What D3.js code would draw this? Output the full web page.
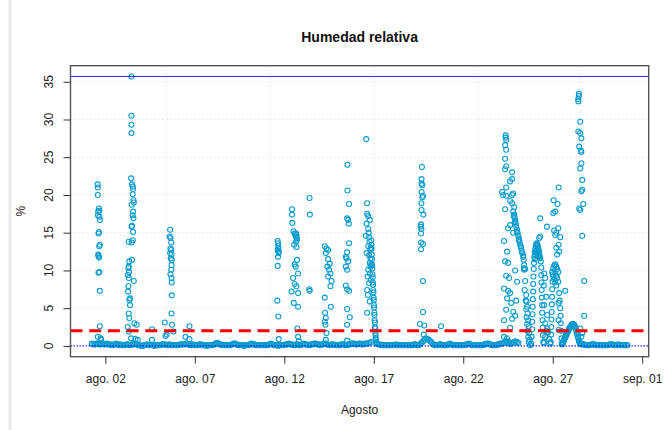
<!DOCTYPE html>
<html>
<head>
<meta charset="utf-8">
<script src="https://cdn.jsdelivr.net/npm/d3@7"></script>
<style>
  body { margin: 0; background: #fff; }
  svg { display: block; font-family: "Liberation Sans", Arial, sans-serif; }
</style>
</head>
<body>
<div id="chart"></div>
<script>
// readings of August 2019, times as decimal day of the month
const year = 2019
const monthAbbr = ["ene.", "feb.", "mar.", "abr.", "may.", "jun.", "jul.", "ago.", "sep.", "oct.", "nov.", "dic."]
const xTickDays = [2, 7, 12, 17, 22, 27, 32]
const yTicks = [0, 5, 10, 15, 20, 25, 30, 35]
const refLine = 2

// low background level, one value every 2 hours (00h, 02h ... 22h) for each day
const baseline = [
  [null, null, null, 0.3, 0.2, 0.2, 0.3, 0.3, 0.2, 0.2, 0.3, 0.2],
  [0.2, 0.3, 0.2, 0.2, 0.1, 0.1, 0.2, 0.3, 0.2, 0.1, 0.2, 0.1],
  [0.1, 0.1, 0.2, 0.2, 0.1, 0.1, 0.2, 0.2, 0.3, 0.2, 0.1, 0.1],
  [0.0, 0.0, 0.1, 0.1, 0.2, 0.1, 0.1, 0.1, 0.1, 0.0, 0.1, 0.1],
  [0.1, 0.1, 0.2, 0.2, 0.2, 0.1, 0.1, 0.2, 0.1, 0.1, 0.1, 0.1],
  [0.1, 0.1, 0.2, 0.2, 0.2, 0.2, 0.3, 0.2, 0.2, 0.1, 0.1, 0.2],
  [0.1, 0.1, 0.1, 0.2, 0.2, 0.1, 0.1, 0.1, 0.0, 0.1, 0.1, 0.1],
  [0.1, 0.2, 0.3, 0.4, 0.3, 0.2, 0.1, 0.1, 0.1, 0.1, 0.1, 0.1],
  [0.1, 0.2, 0.3, 0.3, 0.2, 0.1, 0.1, 0.1, 0.1, 0.0, 0.1, 0.1],
  [0.1, 0.2, 0.3, 0.2, 0.2, 0.1, 0.1, 0.1, 0.1, 0.1, 0.1, 0.1],
  [0.1, 0.1, 0.2, 0.3, 0.2, 0.1, 0.1, 0.1, 0.0, 0.1, 0.1, 0.1],
  [0.1, 0.2, 0.2, 0.3, 0.2, 0.2, 0.1, 0.1, 0.2, 0.2, 0.1, 0.1],
  [0.2, 0.3, 0.2, 0.2, 0.1, 0.1, 0.2, 0.2, 0.3, 0.3, 0.2, 0.2],
  [0.1, 0.2, 0.2, 0.3, 0.3, 0.2, 0.1, 0.1, 0.2, 0.2, 0.1, 0.1],
  [0.1, 0.1, 0.2, 0.2, 0.2, 0.1, 0.1, 0.2, 0.2, 0.3, 0.3, 0.3],
  [0.2, 0.2, 0.3, 0.3, 0.2, 0.2, 0.3, 0.3, 0.3, 0.4, 0.5, null],
  [null, null, 0.3, 0.2, 0.2, 0.1, 0.1, 0.1, 0.1, 0.1, 0.1, 0.1],
  [0.1, 0.1, 0.1, 0.2, 0.1, 0.1, 0.1, 0.1, 0.1, 0.1, 0.1, 0.1],
  [0.1, 0.1, 0.1, 0.2, 0.2, 0.1, 0.1, 0.2, 0.4, 0.6, 0.8, 1.0],
  [0.9, 0.8, 0.6, 0.4, 0.2, 0.1, 0.1, 0.1, 0.2, 0.2, 0.1, 0.1],
  [0.1, 0.1, 0.2, 0.3, 0.2, 0.1, 0.1, 0.1, 0.1, 0.1, 0.1, 0.1],
  [0.1, 0.1, 0.2, 0.2, 0.3, 0.2, 0.1, 0.1, 0.1, 0.1, 0.1, 0.1],
  [0.1, 0.1, 0.2, 0.2, 0.3, 0.3, 0.2, 0.1, 0.1, 0.1, 0.1, 0.2],
  [0.2, 0.3, 0.3, 0.4, 0.5, 0.6, 0.4, 0.3, 0.3, 0.4, 0.5, 0.6],
  [0.5, 0.4, null, null, null, null, null, null, null, null, null, null],
  [null, null, null, null, null, null, null, null, null, null, null, null],
  [null, null, null, null, null, null, null, null, null, null, null, null],
  [null, null, null, null, null, null, null, 0.3, 0.2, 0.2, 0.1, 0.1],
  [0.1, 0.1, 0.2, 0.2, 0.2, 0.1, 0.1, 0.1, 0.1, 0.1, 0.1, 0.1],
  [0.1, 0.1, 0.2, 0.2, 0.2, 0.1, 0.1, 0.1, 0.2, 0.1, 0.1, 0.1],
  [0.1, 0.1, 0.1]
]

// humid episodes: [day, value]
const ago02 = [[1.57, 21.4], [1.58, 21.0], [1.58, 20.0], [1.64, 18.2], [1.67, 17.9], [1.60, 17.8], [1.59, 17.3],
  [1.67, 17.1], [1.69, 16.7], [1.64, 15.1], [1.62, 14.9], [1.69, 13.4], [1.66, 13.2], [1.60, 12.1], [1.62, 11.9],
  [1.66, 11.7], [1.66, 9.8], [1.62, 9.7], [1.69, 7.3], [1.69, 2.6], [1.58, 1.2], [1.77, 0.8], [1.74, 1.0]]

const ago03 = [[3.46, 35.7], [3.46, 30.5], [3.46, 29.3], [3.46, 28.2], [3.44, 22.2], [3.49, 21.4], [3.53, 21.1],
  [3.55, 20.8], [3.53, 20.1], [3.57, 19.3], [3.59, 19.0], [3.47, 18.7], [3.55, 17.8], [3.53, 17.3], [3.57, 16.9],
  [3.49, 15.9], [3.47, 15.8], [3.55, 15.1], [3.53, 14.0], [3.31, 13.8], [3.47, 13.7], [3.49, 11.4], [3.34, 11.2],
  [3.31, 10.5], [3.29, 10.3], [3.32, 9.8], [3.27, 9.4], [3.31, 9.0], [3.59, 8.6], [3.29, 7.9], [3.27, 7.2],
  [3.38, 6.3], [3.34, 6.1], [3.38, 5.4], [3.31, 4.3], [3.34, 3.7], [3.62, 3.0], [3.75, 2.8], [3.31, 1.9],
  [3.44, 1.0], [3.81, 0.8], [3.68, 0.9], [3.25, 2.5]]

const ago06 = [[5.62, 15.4], [5.60, 14.5], [5.64, 14.3], [5.68, 13.7], [5.64, 12.9], [5.68, 12.7], [5.62, 12.3],
  [5.70, 12.1], [5.66, 11.6], [5.71, 11.4], [5.70, 10.7], [5.68, 10.1], [5.64, 9.5], [5.70, 9.0], [5.71, 8.4],
  [5.71, 6.7], [5.70, 4.3], [5.32, 3.1], [5.73, 2.8], [5.81, 1.9], [5.43, 1.5], [5.36, 1.3], [4.61, 2.2],
  [4.61, 0.8], [6.70, 2.6], [6.48, 1.2], [6.70, 0.9]]

const ago12 = [[11.63, 13.9], [11.65, 13.6], [11.67, 13.2], [11.63, 12.7], [11.69, 12.3], [11.65, 11.8],
  [11.63, 10.6], [11.61, 6.0], [11.67, 3.9], [11.69, 0.9], [11.67, 12.9], [11.69, 12.5],
  [12.43, 18.1], [12.43, 17.4], [12.45, 16.3], [12.51, 15.2], [12.58, 14.9], [12.68, 14.7], [12.64, 14.5],
  [12.71, 14.1], [12.55, 13.4], [12.68, 13.1], [12.71, 11.4], [12.58, 10.8], [12.64, 10.5], [12.77, 9.6],
  [12.49, 9.0], [12.58, 8.2], [12.68, 7.9], [12.41, 7.2], [12.77, 7.0], [12.53, 5.7], [12.77, 5.2], [12.73, 2.3],
  [12.77, 1.2], [12.81, 0.6], [12.66, 14.9], [12.70, 14.3], [12.66, 13.8]]

const ago14 = [[13.41, 19.6], [13.43, 17.4], [13.40, 7.5], [13.42, 7.3],
  [14.26, 13.2], [14.36, 12.9], [14.45, 12.7], [14.32, 12.3], [14.45, 11.5], [14.54, 10.9], [14.41, 10.5],
  [14.50, 10.1], [14.58, 9.6], [14.45, 9.2], [14.64, 8.6], [14.58, 7.9], [14.26, 6.4], [14.60, 5.2], [14.28, 4.4],
  [14.32, 3.7], [14.26, 3.2], [14.30, 2.8], [14.36, 1.7], [14.32, 0.8]]

const ago15 = [[15.53, 24.0], [15.53, 20.6], [15.62, 18.8], [15.51, 16.9], [15.57, 16.7], [15.61, 16.2],
  [15.62, 13.6], [15.51, 12.4], [15.44, 11.8], [15.48, 11.6], [15.57, 11.2], [15.44, 10.5], [15.51, 10.1],
  [15.44, 8.0], [15.51, 7.5], [15.62, 7.3], [15.51, 4.9], [15.66, 3.8], [15.51, 2.8], [15.51, 0.7]]

const ago17 = [[16.58, 27.4], [16.63, 18.9], [16.63, 17.5], [16.69, 17.2], [16.78, 16.7], [16.60, 16.2],
  [16.69, 15.5], [16.56, 14.6], [16.74, 14.4], [16.69, 13.2], [16.84, 13.0], [16.60, 12.3], [16.78, 11.0],
  [16.82, 10.5], [16.69, 10.1], [16.78, 9.6], [16.65, 9.2], [16.84, 8.7], [16.74, 8.3], [16.63, 7.4],
  [16.67, 6.75], [16.78, 5.9], [16.63, 4.4], [16.72, 15.0], [16.76, 13.8], [16.80, 12.8], [16.74, 12.0],
  [16.82, 11.6], [16.86, 10.8],
  [16.86, 14.0], [16.87, 13.4], [16.88, 12.9], [16.89, 12.1], [16.90, 11.5], [16.91, 10.7], [16.92, 10.3],
  [16.93, 9.5], [16.94, 9.1], [16.95, 8.4], [16.96, 8.1], [16.97, 7.4], [16.98, 7.1], [16.99, 6.4],
  [17.00, 6.1], [17.01, 5.4], [17.02, 5.1], [17.03, 4.4], [17.04, 4.1], [17.05, 3.4], [17.06, 3.1],
  [17.07, 2.5], [17.08, 2.3], [17.09, 1.7], [17.10, 1.4], [17.11, 1.0], [17.12, 0.8], [17.14, 0.5], [17.16, 0.3]]

const ago20 = [[19.69, 23.7], [19.67, 22.1], [19.67, 21.5], [19.71, 21.3], [19.67, 20.4], [19.75, 19.9],
  [19.71, 19.7], [19.66, 18.9], [19.67, 18.0], [19.77, 17.4], [19.64, 16.1], [19.62, 15.8], [19.66, 15.5],
  [19.64, 14.9], [19.64, 13.7], [19.75, 13.5], [19.64, 12.8], [19.75, 8.6], [19.75, 4.5], [19.58, 2.9],
  [19.82, 2.7], [19.79, 1.5], [20.76, 2.6]]

const ago24 = [[24.37, 27.9], [24.37, 27.6], [24.40, 27.3], [24.34, 26.6], [24.40, 26.0], [24.34, 24.8],
  [24.40, 23.8], [24.34, 23.4], [24.40, 21.0], [24.40, 19.9], [24.34, 18.1], [24.73, 23.0], [24.73, 22.1],
  [24.62, 21.8], [24.79, 20.2], [24.73, 20.0], [24.62, 19.2], [24.73, 18.9], [24.85, 18.4], [24.17, 20.4],
  [24.23, 20.0], [24.62, 16.0], [24.28, 13.9], [24.45, 12.5], [24.34, 11.2], [24.51, 11.0], [24.40, 9.3],
  [24.56, 9.0], [24.28, 7.6], [24.51, 7.3], [24.62, 7.0], [24.45, 6.3], [24.68, 5.7], [24.40, 4.8], [24.28, 3.4],
  [24.45, 1.0], [24.79, 4.5], [24.73, 3.6], [24.62, 2.4], [24.28, 1.2], [24.51, 0.6], [24.51, 15.6],
  [24.79, 15.0], [24.90, 10.0], [25.01, 8.5], [24.96, 6.0], [24.90, 4.0]]

const ago25 = [[24.79, 17.8], [24.85, 17.4], [24.87, 17.0], [24.90, 16.6], [24.93, 16.2], [24.96, 15.8],
  [25.01, 15.4], [25.04, 15.0], [25.07, 14.6], [25.12, 14.2], [25.15, 13.8], [25.18, 13.4], [25.24, 13.0],
  [25.26, 12.6], [25.29, 12.3], [25.35, 12.0], [25.38, 11.4], [25.40, 10.7], [25.40, 10.1], [24.82, 17.2],
  [24.88, 16.4], [24.99, 15.1], [25.10, 14.0], [25.21, 13.2],
  [25.35, 11.8], [25.40, 10.3], [25.46, 10.2], [25.46, 8.6], [25.52, 6.75], [25.54, 5.9], [25.57, 5.2],
  [25.60, 4.3], [25.63, 3.4], [25.66, 2.6], [25.68, 1.7], [25.71, 0.8], [25.74, 0.1], [25.43, 7.4],
  [25.49, 6.0], [25.52, 4.9], [25.54, 3.8], [25.57, 2.9], [25.60, 2.0], [25.63, 1.2], [25.66, 0.5],
  [25.80, 0.3], [25.82, 1.2], [25.85, 2.2], [25.85, 3.2], [25.87, 4.2], [25.88, 5.2], [25.89, 6.2],
  [25.91, 7.2], [25.91, 8.2], [25.92, 9.2], [25.94, 10.2], [25.95, 11.0], [25.97, 11.8], [26.00, 12.4]]

const ago26 = [[26.02, 12.8], [26.05, 13.2], [26.08, 13.4], [26.10, 13.6], [26.13, 13.5], [26.16, 13.3],
  [26.19, 13.0], [26.22, 12.7], [26.24, 12.4], [26.27, 12.0], [26.30, 11.6], [26.33, 11.2], [26.08, 12.5],
  [26.13, 12.2], [26.19, 11.9], [26.02, 12.0], [26.00, 11.5], [26.16, 12.6], [26.24, 11.8],
  [26.36, 10.4], [26.36, 9.4], [26.37, 8.4], [26.38, 7.4], [26.39, 6.4], [26.41, 5.4], [26.41, 4.4],
  [26.43, 3.4], [26.44, 2.4], [26.45, 1.4], [26.47, 0.5],
  [26.52, 0.4], [26.58, 1.2], [26.64, 2.0], [26.69, 2.3], [26.75, 1.8], [26.80, 0.9], [26.86, 0.3],
  [26.52, 9.6], [26.58, 9.0], [26.50, 8.0], [26.64, 6.5], [26.52, 5.4], [26.69, 4.1], [26.58, 3.0],
  [26.30, 16.9], [26.24, 14.3], [26.68, 15.8], [26.30, 14.5]]

const ago27 = [[26.89, 0.5], [26.92, 1.5], [26.92, 2.5], [26.93, 3.5], [26.94, 4.5], [26.95, 5.5],
  [26.97, 6.5], [26.97, 7.5], [26.99, 8.5], [27.00, 9.5],
  [26.97, 9.8], [27.03, 10.3], [27.08, 10.6], [27.14, 10.8], [27.20, 10.5], [27.25, 10.2], [27.31, 9.8],
  [27.03, 9.2], [27.08, 8.8], [27.14, 8.4], [27.20, 8.0], [27.25, 9.0], [27.31, 8.5], [27.14, 9.6], [27.20, 9.3],
  [27.36, 7.0], [27.39, 6.0], [27.42, 5.0], [27.44, 4.0], [27.45, 3.0], [27.48, 2.0], [27.49, 1.0], [27.50, 0.3],
  [27.33, 21.0], [27.05, 19.3], [27.27, 18.8], [27.14, 17.8], [27.03, 17.6], [27.08, 15.3], [27.14, 14.7],
  [27.20, 15.0], [27.33, 13.4], [27.25, 12.1], [27.20, 13.0], [27.70, 7.3], [27.33, 5.7], [27.33, 3.4],
  [27.33, 2.1], [27.31, 15.6], [27.42, 14.4], [27.36, 12.5],
  [27.53, 0.2], [27.56, 0.4], [27.59, 0.5], [27.62, 0.7], [27.64, 0.8], [27.67, 1.0], [27.70, 1.1],
  [27.73, 1.3], [27.76, 1.4], [27.78, 1.6], [27.81, 1.7], [27.84, 1.9], [27.87, 2.0], [27.90, 2.2],
  [27.92, 2.3], [27.95, 2.4], [27.98, 2.5], [28.01, 2.6], [28.04, 2.7], [28.06, 2.8], [28.09, 2.85],
  [28.12, 2.9], [28.15, 2.9], [28.18, 2.8], [28.20, 2.8], [28.23, 2.6], [28.26, 2.5], [28.29, 2.2],
  [28.32, 2.0], [28.34, 1.7], [28.37, 1.5], [28.40, 1.2], [28.43, 1.0], [28.46, 0.7], [28.48, 0.6],
  [28.51, 0.4], [28.54, 0.3], [28.57, 0.2]]

const ago28 = [[28.46, 33.4], [28.46, 33.1], [28.43, 32.7], [28.43, 32.4], [28.54, 29.7], [28.43, 28.4],
  [28.54, 28.2], [28.60, 27.5], [28.48, 26.4], [28.57, 25.9], [28.60, 25.7], [28.60, 24.2], [28.54, 23.5],
  [28.65, 22.0], [28.65, 20.7], [28.60, 20.5], [28.71, 18.8], [28.48, 18.2], [28.54, 18.0], [28.65, 14.6],
  [28.76, 8.6], [28.76, 4.0], [28.65, 1.7], [28.54, 2.3], [28.60, 1.2]]

const episodes = [ago02, ago03, ago06, ago12, ago14, ago15, ago17, ago20, ago24, ago25, ago26, ago27, ago28]

const toDate = d => new Date(Date.UTC(year, 7, 1) + (d - 1) * 864e5)

const points = []
baseline.forEach((vals, i) => vals.forEach((v, j) => {
  if (v !== null) points.push({ t: toDate(i + 1 + j / 12), v: v })
}))
episodes.forEach(s => s.forEach(([d, v]) => points.push({ t: toDate(d), v: v })))

const width = 671
const height = 430
const box = { left: 70.5, right: 648.7, top: 65.7, bottom: 356.7 }

const svg = d3.select("#chart")
  .append("svg")
  .attr("width", width)
  .attr("height", height)

// frame edge of the original screenshot
svg.append("rect").attr("x", 8.5).attr("y", 0).attr("width", 3).attr("height", height).attr("fill", "#ececec")

const tExt = d3.extent(points, p => p.t)
const tPad = (tExt[1] - tExt[0]) * 0.04
const x = d3.scaleUtc()
  .domain([new Date(+tExt[0] - tPad), new Date(+tExt[1] + tPad)])
  .range([box.left, box.right])

const vMin = d3.min(points, p => p.v)
const vMax = d3.max(points, p => p.v)
const vPad = (vMax - vMin) * 0.04
const y = d3.scaleLinear()
  .domain([vMin - vPad, vMax + vPad])
  .range([box.bottom, box.top])

// grid: R's pretty() steps on the time in seconds -> 500000 s
const gridStep = 500000 * 1000
const dom = x.domain()
const gridTimes = d3.range(Math.ceil(+dom[0] / gridStep) * gridStep, +dom[1], gridStep)

const grid = svg.append("g")
  .attr("stroke", "#d3d3d3")
  .attr("stroke-width", 1)
  .attr("stroke-dasharray", "1,3")
grid.selectAll(".gx").data(gridTimes).join("line")
  .attr("x1", d => x(new Date(d))).attr("x2", d => x(new Date(d)))
  .attr("y1", box.top).attr("y2", box.bottom)
grid.selectAll(".gy").data(yTicks).join("line")
  .attr("x1", box.left).attr("x2", box.right)
  .attr("y1", d => y(d)).attr("y2", d => y(d))

// points
svg.append("g")
  .selectAll("circle")
  .data(points)
  .join("circle")
  .attr("cx", p => x(p.t))
  .attr("cy", p => y(p.v))
  .attr("r", 2.5)
  .attr("fill", "none")
  .attr("stroke", "#0a9bcd")
  .attr("stroke-width", 1.1)

// reference lines
svg.append("line")
  .attr("x1", box.left).attr("x2", box.right)
  .attr("y1", y(vMax)).attr("y2", y(vMax))
  .attr("stroke", "#2a2aff").attr("stroke-width", 1)

svg.append("line")
  .attr("x1", box.left).attr("x2", box.right)
  .attr("y1", y(refLine)).attr("y2", y(refLine))
  .attr("stroke", "#ff0000").attr("stroke-width", 3)
  .attr("stroke-dasharray", "12,6.7")

svg.append("line")
  .attr("x1", box.left).attr("x2", box.right)
  .attr("y1", y(0)).attr("y2", y(0))
  .attr("stroke", "#0000ff").attr("stroke-width", 1)
  .attr("stroke-dasharray", "1.5,1.5")

// box
svg.append("rect")
  .attr("x", box.left).attr("y", box.top)
  .attr("width", box.right - box.left).attr("height", box.bottom - box.top)
  .attr("fill", "none").attr("stroke", "#555").attr("stroke-width", 1.4)

// x axis
const xAxis = d3.axisBottom(x)
  .tickValues(xTickDays.map(toDate))
  .tickSize(7)
  .tickPadding(10.8)
  .tickFormat(d => monthAbbr[d.getUTCMonth()] + " " + d3.utcFormat("%d")(d))

const gx = svg.append("g")
  .attr("transform", `translate(0,${box.bottom})`)
  .call(xAxis)
gx.select(".domain").remove()
gx.selectAll(".tick line").attr("stroke", "#333")
gx.selectAll(".tick text").attr("fill", "#222").style("font-size", "12px")
  .style("font-family", '"Liberation Sans", Arial, sans-serif')

// y axis
const yAxis = d3.axisLeft(y).tickValues(yTicks).tickSize(7).tickFormat("")
const gy = svg.append("g")
  .attr("transform", `translate(${box.left},0)`)
  .call(yAxis)
gy.select(".domain").remove()
gy.selectAll(".tick line").attr("stroke", "#333")

svg.append("g").selectAll("text")
  .data(yTicks)
  .join("text")
  .attr("transform", d => `translate(53,${y(d)}) rotate(-90)`)
  .attr("text-anchor", "middle")
  .attr("fill", "#222")
  .style("font-size", "12px")
  .text(d => d)

// titles
svg.append("text")
  .attr("x", (box.left + box.right) / 2).attr("y", 41.5)
  .attr("text-anchor", "middle")
  .style("font-size", "14px").style("font-weight", "bold")
  .attr("fill", "#111")
  .text("Humedad relativa")

svg.append("text")
  .attr("x", (box.left + box.right) / 2).attr("y", 414)
  .attr("text-anchor", "middle")
  .style("font-size", "12px")
  .attr("fill", "#222")
  .text("Agosto")

svg.append("text")
  .attr("transform", `translate(25,${(box.top + box.bottom) / 2}) rotate(-90)`)
  .attr("text-anchor", "middle")
  .style("font-size", "12px")
  .attr("fill", "#222")
  .text("%")
</script>
</body>
</html>
